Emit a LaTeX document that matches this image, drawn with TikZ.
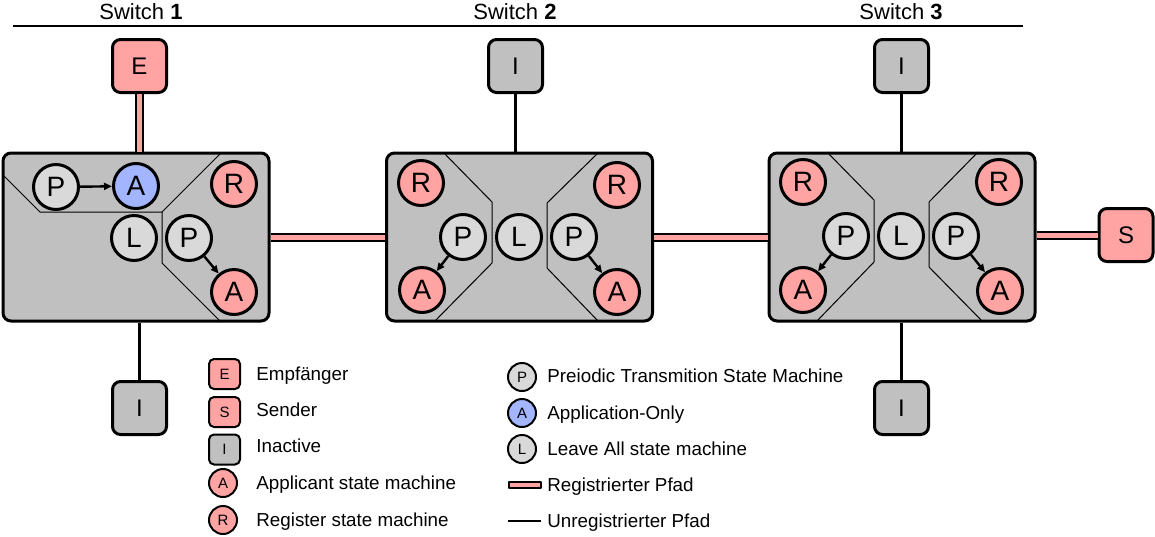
\documentclass[tikz,border=0pt]{standalone}
\usepackage{fontspec}
\setmainfont{Liberation Sans}
\usetikzlibrary{arrows.meta}
\definecolor{regpink}{HTML}{FFA3A3}
\definecolor{appblue}{HTML}{A3B5FF}
\definecolor{smgray}{HTML}{D9D9D9}
\definecolor{swgray}{HTML}{C0C0C0}

\begin{document}
\begin{tikzpicture}[x=0.5pt,y=-0.5pt,>={Triangle[length=4pt,width=3.5pt]},
  line join=round,
  head/.style={font=\fontsize{11}{12}\selectfont,inner sep=0pt},
  swbox/.style={draw,line width=1.5pt,fill=swgray,rounded corners=4pt,
    minimum width=133pt,minimum height=84pt},
  port/.style={draw,line width=1.5pt,rounded corners=4pt,inner sep=0pt,
    minimum width=27pt,minimum height=26.5pt,font=\fontsize{12}{12}\selectfont},
  sm/.style={circle,draw,line width=1.5pt,inner sep=0pt,minimum size=22.5pt,
    font=\fontsize{14}{14}\selectfont},
  lgport/.style={draw,line width=1pt,rounded corners=2.5pt,inner sep=0pt,
    minimum width=15.5pt,minimum height=15pt,font=\fontsize{7.5}{7.5}\selectfont},
  lgsm/.style={circle,draw,line width=1pt,inner sep=0pt,minimum size=14pt,
    font=\fontsize{7.5}{7.5}\selectfont},
  lgtext/.style={anchor=west,inner sep=0pt,text height=6.7pt,text depth=0pt,
    font=\fontsize{9.4}{11}\selectfont},
  divider/.style={line width=0.5pt},
  arr/.style={->,line width=1.2pt},
  regpath/.style={draw=black,double=regpink,line width=1pt,double distance=2.5pt},
  unreg/.style={line width=1.5pt}]
\useasboundingbox (0,0) rectangle (1155,536);

% header
\node[head] (h1) at (141,12) {Switch \textbf{1}};
\node[head] (h2) at (515,12) {Switch \textbf{2}};
\node[head] (h3) at (901,12) {Switch \textbf{3}};
\draw[line width=1pt] (13,26) -- (1023,26);

% ports
\node[port,fill=regpink] (E) at (139.5,66) {E};
\node[port,fill=swgray] (I2) at (515.5,66) {I};
\node[port,fill=swgray] (I3) at (901.5,66) {I};
\node[port,fill=swgray] (I1b) at (139.5,408) {I};
\node[port,fill=swgray] (I3b) at (901.5,408) {I};
\node[port,fill=regpink] (S) at (1126,235) {S};

% switches
\node[swbox] (sw1) at (136,237) {};
\node[swbox] (sw2) at (519.5,237) {};
\node[swbox] (sw3) at (902,237) {};

% paths
\draw[regpath] (E) -- (E |- sw1.north);
\draw[regpath] (sw1.east) -- (sw2.west);
\draw[regpath] (sw2.east) -- (sw3.west);
\draw[regpath] (sw3.east |- S) -- (S);
\draw[unreg] (I2) -- (I2 |- sw2.north);
\draw[unreg] (I3) -- (I3 |- sw3.north);
\draw[unreg] (I1b) -- (I1b |- sw1.south);
\draw[unreg] (I3b) -- (I3b |- sw3.south);

% dividers
\draw[divider] (4,176) -- (40,212) -- (162,212) -- (221,153);
\draw[divider] (162,212) -- (162,263) -- (221,322);
\draw[divider] (444,153) -- (492,202) -- (492,263) -- (435,321);
\draw[divider] (598,153) -- (547,203) -- (547,268) -- (598,321);
\draw[divider] (827,152) -- (874,200) -- (874,262) -- (817,321);
\draw[divider] (978,152) -- (929,202) -- (929,267) -- (982,321);

% switch 1
\node[sm,fill=smgray] (s1p1) at (56,187) {P};
\node[sm,fill=appblue] (s1ao) at (136,186) {A};
\node[sm,fill=regpink] (s1r) at (234,184) {R};
\node[sm,fill=smgray] (s1l) at (134,238) {L};
\node[sm,fill=smgray] (s1p2) at (189,238) {P};
\node[sm,fill=regpink] (s1a) at (234,292) {A};
\draw[arr] (s1p1) -- (s1ao);
\draw[arr] (s1p2) -- (s1a);

% switch 2
\node[sm,fill=regpink] (s2r1) at (421,183) {R};
\node[sm,fill=smgray] (s2p1) at (463,237) {P};
\node[sm,fill=regpink] (s2a1) at (422,290) {A};
\node[sm,fill=smgray] (s2l) at (519,237) {L};
\node[sm,fill=smgray] (s2p2) at (574,237) {P};
\node[sm,fill=regpink] (s2r2) at (617,185) {R};
\node[sm,fill=regpink] (s2a2) at (617,292) {A};
\draw[arr] (s2p1) -- (s2a1);
\draw[arr] (s2p2) -- (s2a2);

% switch 3
\node[sm,fill=regpink] (s3r1) at (803,182) {R};
\node[sm,fill=smgray] (s3p1) at (846,236) {P};
\node[sm,fill=regpink] (s3a1) at (803,290) {A};
\node[sm,fill=smgray] (s3l) at (901,236) {L};
\node[sm,fill=smgray] (s3p2) at (956,236) {P};
\node[sm,fill=regpink] (s3r2) at (999,182) {R};
\node[sm,fill=regpink] (s3a2) at (1000,291) {A};
\draw[arr] (s3p1) -- (s3a1);
\draw[arr] (s3p2) -- (s3a2);

% legend
\node[lgport,fill=regpink] (lgE) at (224.5,374) {E};
\node[lgport,fill=regpink] (lgS) at (224.5,412) {S};
\node[lgport,fill=swgray] (lgI) at (224.5,449.5) {I};
\node[lgsm,fill=regpink] (lgA) at (223,483) {A};
\node[lgsm,fill=regpink] (lgR) at (223,520) {R};
\node[lgtext] (tE) at (256,374) {Empfänger};
\node[lgtext] (tS) at (256,410) {Sender};
\node[lgtext] (tI) at (256,446) {Inactive};
\node[lgtext] (tA) at (256,483) {Applicant state machine};
\node[lgtext] (tR) at (256,520) {Register state machine};

\node[lgsm,fill=smgray] (lgP) at (522,377) {P};
\node[lgsm,fill=appblue] (lgAo) at (522,413) {A};
\node[lgsm,fill=smgray] (lgL) at (522,449) {L};
\node[draw,fill=regpink,line width=1pt,inner sep=0pt,minimum width=16pt,
  minimum height=3pt] (lgreg) at (524.5,485) {};
\coordinate (lgu1) at (508,521);
\coordinate (lgu2) at (541,521);
\draw[line width=1pt] (lgu1) -- (lgu2);
\node[lgtext] (tP) at (547,376) {Preiodic Transmition State Machine};
\node[lgtext] (tAo) at (547,413) {Application-Only};
\node[lgtext] (tL) at (547,449) {Leave All state machine};
\node[lgtext] (treg) at (547,485) {Registrierter Pfad};
\node[lgtext] (tunreg) at (547,521) {Unregistrierter Pfad};
\end{tikzpicture}
\end{document}
